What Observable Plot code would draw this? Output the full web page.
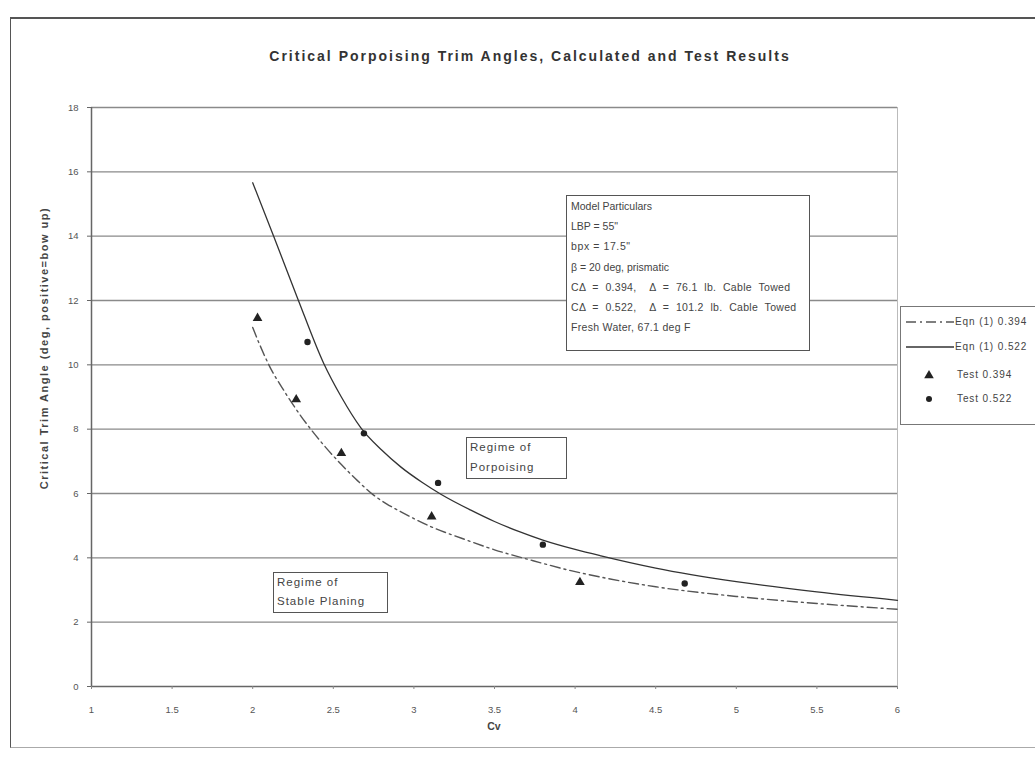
<!DOCTYPE html>
<html>
<head>
<meta charset="utf-8">
<script src="https://cdn.jsdelivr.net/npm/d3@7"></script>
<script src="https://cdn.jsdelivr.net/npm/@observablehq/plot@0.6"></script>
<style>
  html, body { margin: 0; padding: 0; background: #fff; }
  #page { position: relative; width: 1035px; height: 766px; overflow: hidden; font-family: "Liberation Sans", Arial, sans-serif; color: #444; }
  #frame { position: absolute; left: 10px; top: 17px; width: 1040px; height: 731px; border-left: 1.5px solid #555; border-top: 2px solid #555; border-bottom: 1px solid #aaa; box-sizing: border-box; }
  #chart { position: absolute; left: 0; top: 0; }
  .ov { position: absolute; white-space: nowrap; }
  #title { left: 0; width: 1060px; top: 48px; text-align: center; font-weight: bold; font-size: 14px; letter-spacing: 2px; color: #333; }
  #ylab { left: 44px; top: 348px; transform: translate(-50%, -50%) rotate(-90deg); font-size: 11px; letter-spacing: 1.5px; font-weight: bold; color: #444; }
  #xlab { left: 494px; top: 720px; transform: translateX(-50%); font-size: 10.5px; font-weight: bold; color: #444; }
  .box { position: absolute; background: #fff; border: 1px solid #555; font-size: 10.5px; color: #444; box-sizing: border-box; }
  .wide { word-spacing: 3.5px; letter-spacing: 0.3px; }
  .reg { font-size: 11.5px; letter-spacing: 1px; }
  #legend { position: absolute; left: 900px; top: 306px; width: 150px; height: 119px; border: 1px solid #777; background: #fff; box-sizing: border-box; font-size: 10px; letter-spacing: 0.9px; color: #444; }
  .lrow { position: absolute; left: 0; height: 12px; }
  .lrow svg { position: absolute; left: 3px; top: 0; }
  .lrow span { position: absolute; top: 0px; }
</style>
</head>
<body>
<div id="page">
  <div id="frame"></div>
  <div id="chart"></div>
  <div class="ov" id="title">Critical Porpoising Trim Angles, Calculated and Test Results</div>
  <div class="ov" id="ylab">Critical Trim Angle (deg, positive=bow up)</div>
  <div class="ov" id="xlab">Cv</div>
  <div class="box" style="left:566px; top:195px; width:244px; height:156px; padding:0 0 0 4px; line-height:20.2px;">
    Model Particulars<br>LBP = 55"<br><span style="letter-spacing:0.6px">bpx = 17.5"</span><br>β = 20 deg, prismatic<br><span class="wide">CΔ = 0.394,&nbsp; Δ = 76.1 lb. Cable Towed</span><br><span class="wide">CΔ = 0.522,&nbsp; Δ = 101.2 lb. Cable Towed</span><br><span style="letter-spacing:0.3px">Fresh Water, 67.1 deg F</span>
  </div>
  <div class="box reg" style="left:466px; top:437px; width:101px; height:42px; padding:0 0 0 3px; line-height:19.5px;">Regime of<br>Porpoising</div>
  <div class="box reg" style="left:273px; top:572px; width:115px; height:41px; padding:0 0 0 3px; line-height:19px;">Regime of<br>Stable Planing</div>
  <div id="legend"></div>
</div>
<script>
// Equation (1) curves
const eq394Cv    = [2.0, 2.05, 2.1, 2.2, 2.3, 2.36, 2.45, 2.55, 2.65, 2.75, 2.83, 2.92, 3.1, 3.3, 3.5, 3.74, 3.95, 4.16, 4.5, 5.0, 5.5, 6.0];
const eq394Theta = [11.16, 10.55, 10.0, 9.15, 8.4, 8.0, 7.45, 6.9, 6.4, 5.95, 5.68, 5.43, 4.98, 4.6, 4.25, 3.91, 3.63, 3.4, 3.1, 2.8, 2.58, 2.4];
const eq522Cv    = [2.0, 2.13, 2.28, 2.44, 2.55, 2.67, 2.8, 2.92, 3.05, 3.17, 3.35, 3.5, 3.65, 3.8, 4.0, 4.16, 4.5, 5.0, 5.5, 6.0];
const eq522Theta = [15.66, 14.0, 12.05, 10.05, 9.0, 8.05, 7.35, 6.82, 6.35, 5.97, 5.49, 5.13, 4.82, 4.55, 4.26, 4.06, 3.68, 3.26, 2.94, 2.68];
// Test results
const test394Cv    = [2.03, 2.27, 2.55, 3.11, 4.03];
const test394Theta = [11.45, 8.92, 7.25, 5.28, 3.24];
const test522Cv    = [2.34, 2.69, 3.15, 3.80, 4.68];
const test522Theta = [10.71, 7.87, 6.33, 4.41, 3.2];
// ticks
const xTicks = [1, 1.5, 2, 2.5, 3, 3.5, 4, 4.5, 5, 5.5, 6];
const yTicks = [0, 2, 4, 6, 8, 10, 12, 14, 16, 18];
const seriesNames = ["Eqn (1) 0.394", "Eqn (1) 0.522", "Test 0.394", "Test 0.522"];

const zip = (xs, ys) => xs.map((x, i) => ({x, y: ys[i]}));
const eq394 = zip(eq394Cv, eq394Theta);
const eq522 = zip(eq522Cv, eq522Theta);
const t394 = zip(test394Cv, test394Theta);
const t522 = zip(test522Cv, test522Theta);

const chart = Plot.plot({
  width: 1035,
  height: 766,
  marginLeft: 91,
  marginRight: 138,
  marginTop: 107,
  marginBottom: 80,
  style: {fontFamily: "'Liberation Sans', Arial, sans-serif", fontSize: "9.5px", color: "#444", background: "transparent"},
  x: {domain: [1, 6]},
  y: {domain: [0, 18]},
  marks: [
    Plot.ruleY(yTicks.filter(d => d > 0), {stroke: "#8a8a8a", strokeWidth: 1.4}),
    Plot.ruleX([6], {stroke: "#bbb", strokeWidth: 1}),
    Plot.ruleY([0], {stroke: "#666", strokeWidth: 1.5}),
    Plot.ruleX([1], {stroke: "#666", strokeWidth: 1.5}),
    Plot.axisY({ticks: yTicks, tickSize: 4, tickPadding: 9, label: null, stroke: "#666", fill: "#555"}),
    Plot.axisX({ticks: xTicks, tickSize: 3, tickPadding: 17, label: null, stroke: "#888", fill: "#555", tickFormat: d => String(d)}),
    Plot.line(eq394, {x: "x", y: "y", curve: "monotone-x", stroke: "#555", strokeWidth: 1.4, strokeDasharray: "10,4,2,4"}),
    Plot.line(eq522, {x: "x", y: "y", curve: "monotone-x", stroke: "#333", strokeWidth: 1.3}),
    Plot.dot(t394, {x: "x", y: "y", symbol: "triangle", r: 3.6, fill: "#222", stroke: "none"}),
    Plot.dot(t522, {x: "x", y: "y", symbol: "circle", r: 3.2, fill: "#222", stroke: "none"})
  ]
});
document.getElementById("chart").appendChild(chart);

// legend
const legend = d3.select("#legend");
const rows = [
  {name: seriesNames[0], top: 9, kind: "dash"},
  {name: seriesNames[1], top: 34, kind: "solid"},
  {name: seriesNames[2], top: 62, kind: "tri"},
  {name: seriesNames[3], top: 86, kind: "circ"}
];
rows.forEach(r => {
  const row = legend.append("div").attr("class", "lrow").style("top", r.top + "px").style("width", "150px");
  const svg = row.append("svg").attr("width", 52).attr("height", 12);
  if (r.kind === "dash") svg.append("line").attr("x1", 2).attr("x2", 50).attr("y1", 6).attr("y2", 6).attr("stroke", "#555").attr("stroke-width", 1.4).attr("stroke-dasharray", "10,4,2,4");
  if (r.kind === "solid") svg.append("line").attr("x1", 2).attr("x2", 50).attr("y1", 6).attr("y2", 6).attr("stroke", "#333").attr("stroke-width", 1.3);
  if (r.kind === "tri") svg.append("path").attr("d", d3.symbol(d3.symbolTriangle, 40)()).attr("transform", "translate(25,6.5)").attr("fill", "#222");
  if (r.kind === "circ") svg.append("circle").attr("cx", 25).attr("cy", 6).attr("r", 3).attr("fill", "#222");
  row.append("span").style("left", (r.kind === "dash" || r.kind === "solid") ? "54px" : "56px").text(r.name);
});
</script>
</body>
</html>
